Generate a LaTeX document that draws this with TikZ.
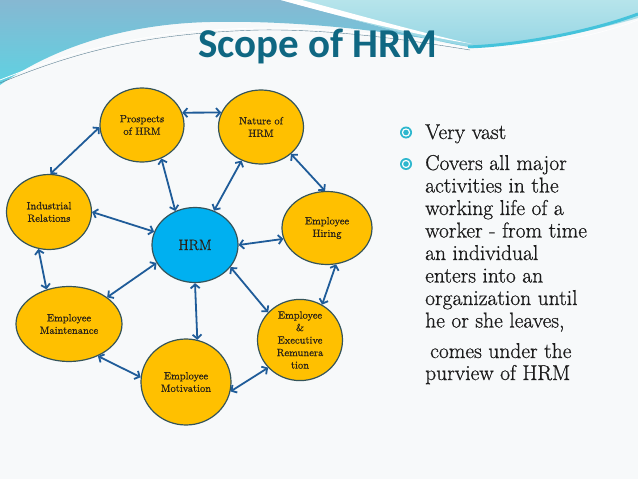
\documentclass[tikz,border=0pt]{standalone}
\usepackage{fontspec}
\newfontfamily\titlefont{Carlito}[BoldFont=* Bold]
\newfontfamily\heavyserif{Latin Modern Roman}[FakeBold=0.7]
\usetikzlibrary{shapes.geometric,arrows.meta}
\definecolor{bgc}{HTML}{F7F9FA}
\definecolor{bluetop}{HTML}{86B8D2}
\definecolor{bluebot}{HTML}{5ED2E2}
\definecolor{cyantop}{HTML}{B6E4EB}
\definecolor{cyanbot}{HTML}{96D6E4}
\definecolor{cyanline}{HTML}{45C3DB}
\definecolor{titlec}{HTML}{0F6782}
\definecolor{gold}{HTML}{FFC000}
\definecolor{skyc}{HTML}{00B0F0}
\definecolor{ringc}{HTML}{34545A}
\definecolor{arrowc}{HTML}{1F5C99}
\definecolor{txt}{HTML}{2A2218}
\definecolor{bodyc}{HTML}{1C1C1C}
\definecolor{bulc}{HTML}{2DB7CE}
\tikzset{
  topic/.style={ellipse, draw=ringc, line width=1.2pt, fill=gold, inner sep=0pt,
    align=center, text=txt, font=\heavyserif\fontsize{10.5}{12.5}\selectfont},
  link/.style={{Straight Barb[length=4pt,width=9pt]}-{Straight Barb[length=4pt,width=9pt]},
    draw=arrowc, line width=1.8pt},
  bodytext/.style={anchor=base west, inner sep=0pt, text=bodyc,
    font=\heavyserif\fontsize{21.5}{24}\selectfont}
}
\begin{document}
\begin{tikzpicture}[x=1pt,y=-1pt]
\useasboundingbox (0,0) rectangle (638,479);
\fill[bgc] (0,0) rectangle (638,479);
% top decoration
\shade[top color=cyantop, bottom color=cyanbot]
  (280,0) -- (638,0) -- (638,18) .. controls (590,32) and (520,45) .. (470,47)
  .. controls (400,35) and (330,12) .. (280,0) -- cycle;
\shade[top color=bluetop, bottom color=bluebot]
  (0,0) -- (280,0) .. controls (330,12) and (400,35) .. (470,47)
  .. controls (400,32) and (300,20) .. (210,22)
  .. controls (120,24) and (50,50) .. (0,85) -- cycle;
\fill[white] (281,0) -- (302,0) .. controls (340,10) and (410,30) .. (472,44)
  .. controls (410,34) and (330,14) .. (281,0) -- cycle;
\draw[cyanline, line width=3pt] (468,47) .. controls (520,45) and (590,32) .. (638,14);
\draw[white, line width=0.8pt] (0,80) .. controls (80,48) and (150,30) .. (260,28) .. controls (340,27) and (420,40) .. (470,49);
\draw[bluetop!70!black, line width=0.4pt] (0,83) .. controls (80,50) and (150,33) .. (260,30) .. controls (340,29) and (420,42) .. (470,50);
\draw[white, line width=0.6pt] (470,49) .. controls (540,48) and (600,35) .. (638,20);
% title
\node[anchor=base, inner sep=0pt, text=titlec, font=\titlefont\bfseries\fontsize{41}{44}\selectfont]
  (title) at (318,57) {Scope of HRM};
% diagram nodes
\node[topic, minimum width=84pt, minimum height=74pt] (pro) at (142,125) {Prospects\\of HRM};
\node[topic, minimum width=85pt, minimum height=74pt] (nat) at (261,127) {Nature of\\HRM};
\node[topic, minimum width=85pt, minimum height=75pt] (ind) at (49,212) {Industrial\\Relations};
\node[topic, fill=skyc, minimum width=86pt, minimum height=75pt, font=\heavyserif\fontsize{15}{17}\selectfont] (hrm) at (195,245) {HRM};
\node[topic, minimum width=90pt, minimum height=73pt] (hir) at (327,228) {Employee\\Hiring};
\node[topic, minimum width=106pt, minimum height=75pt] (mai) at (69,324) {Employee\\Maintenance};
\node[topic, minimum width=90pt, minimum height=86pt] (mot) at (186,382) {Employee\\Motivation};
\node[topic, minimum width=85pt, minimum height=75pt] (rem) at (300,340) {Employee\\\&\\Executive\\Remunera\\tion};
% connectors
\draw[link] (pro.17) -- (nat.160);
\draw[link] (pro.183) -- (ind.88);
\draw[link] (pro.-60) -- (hrm.120);
\draw[link] (nat.-120) -- (hrm.61);
\draw[link] (nat.-42) -- (hir.93);
\draw[link] (ind.0) -- (hrm.162);
\draw[link] (hrm.0) -- (hir.194);
\draw[link] (ind.254) -- (mai.123);
\draw[link] (hrm.205) -- (mai.35);
\draw[link] (hrm.270) -- (mot.75);
\draw[link] (hrm.-32) -- (rem.139);
\draw[link] (hir.-76) -- (rem.58);
\draw[link] (mai.-48) -- (mot.174);
\draw[link] (mot.-12) -- (rem.221);
% bullets
\foreach \by in {132.5,164} {
  \fill[bulc] (406,\by) circle (6);
  \fill[white] (406,\by) circle (4.2);
  \fill[bulc] (406,\by) circle (2.8);
}
% body text
\node[bodytext] (l1) at (425,139) {Very vast};
\node[bodytext] (l2) at (425,170) {Covers all major};
\node[bodytext] (l3) at (425,192.5) {activities in the};
\node[bodytext] (l4) at (425,215) {working life of a};
\node[bodytext] (l5) at (425,237.5) {worker - from time};
\node[bodytext] (l6) at (425,260) {an individual};
\node[bodytext] (l7) at (425,282.5) {enters into an};
\node[bodytext] (l8) at (425,305) {organization until};
\node[bodytext] (l9) at (425,327.5) {he or she leaves,};
\node[bodytext] (l10) at (430,358) {comes under the};
\node[bodytext] (l11) at (425,380) {purview of HRM};
\end{tikzpicture}
\end{document}
